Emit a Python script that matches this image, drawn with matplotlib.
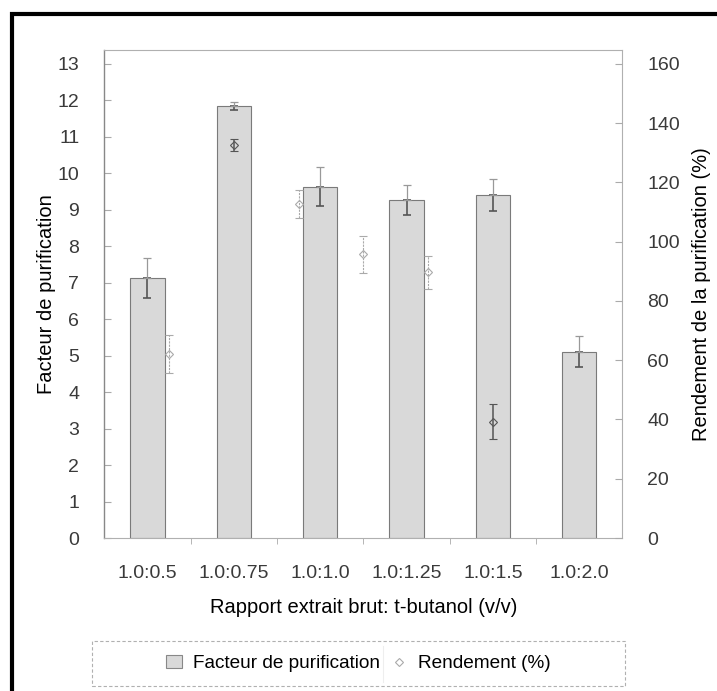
import matplotlib.pyplot as plt
from matplotlib.patches import Rectangle
from matplotlib.lines import Line2D
from matplotlib.patches import Patch
import numpy as np

plt.rcParams['font.family'] = ['Liberation Sans', 'DejaVu Sans']

categories = ["1.0:0.5", "1.0:0.75", "1.0:1.0", "1.0:1.25", "1.0:1.5", "1.0:2.0"]
facteur = [7.12, 11.84, 9.63, 9.26, 9.41, 5.11]
facteur_err = [0.55, 0.11, 0.54, 0.41, 0.43, 0.42]
rendement = [62.2, 132.7, 112.7, 95.7, 89.7, 39.2]
rendement_err = [6.4, 2.0, 4.8, 6.4, 5.6, 5.9]

fig = plt.figure(figsize=(7.17, 6.91), dpi=100)
pos = [0.1455, 0.2214, 0.7225, 0.7062]
ax = fig.add_axes(pos)

x = np.arange(len(categories))
ax.bar(x, facteur, width=0.4, color='#d9d9d9', edgecolor='#7a7a7a', linewidth=0.8, zorder=2)
# error bars: lower part (inside bar) dark, upper part lighter
ax.errorbar(x, facteur, yerr=[facteur_err, np.zeros(len(x))], fmt='none',
            ecolor='#555555', elinewidth=1.2, capsize=3, capthick=1.2, zorder=3)
ax.errorbar(x, facteur, yerr=[np.zeros(len(x)), facteur_err], fmt='none',
            ecolor='#999999', elinewidth=0.9, capsize=3, capthick=0.9, zorder=3)

ax.set_xlim(-0.5, len(categories) - 0.5)
ax.set_ylim(0, 13.38)
ax.set_yticks(range(0, 14))
ax.set_xticks(x)
ax.set_xticklabels(categories)
ax.set_xticks(np.arange(0.5, len(categories) - 0.5), minor=True)
ax.tick_params(axis='x', which='major', length=0, pad=19.5, labelsize=14, labelcolor='#3a3a3a')
ax.tick_params(axis='x', which='minor', length=4, color='#aaaaaa', direction='out')
ax.tick_params(axis='y', direction='in', length=5, color='#aaaaaa', labelsize=14,
               labelcolor='#3a3a3a', pad=18)
ax.spines['left'].set_color('#888888')
ax.spines['left'].set_linewidth(1.0)
for s in ['top', 'bottom', 'right']:
    ax.spines[s].set_color('#b0b0b0')
    ax.spines[s].set_linestyle((0, (2, 1)))
    ax.spines[s].set_linewidth(0.8)
ax.set_xlabel("Rapport extrait brut: t-butanol (v/v)", fontsize=14.5, labelpad=11.5)
ax.set_ylabel("Facteur de purification", fontsize=14.5, labelpad=1)

# secondary axes: value x axis 0..8, rendement points at 1..6
ax2 = fig.add_axes(pos, frameon=False)
xr = np.arange(1, len(rendement) + 1)
dark = [False, True, False, False, False, True]
for xi, yi, ei, d in zip(xr, rendement, rendement_err, dark):
    col = '#555555' if d else '#aaaaaa'
    ls = '-' if d else (0, (2, 1))
    eb = ax2.errorbar(xi, yi, yerr=ei, fmt='D', ms=4.5, mfc='none', mec=col, mew=0.8,
                      ecolor=col, elinewidth=1.1 if d else 0.8, capsize=3,
                      capthick=1.1 if d else 0.8, zorder=4)
    eb[2][0].set_linestyle(ls)
ax2.set_xlim(0, 8)
ax2.set_ylim(0, 164.7)
ax2.set_xticks([])
ax2.yaxis.tick_right()
ax2.yaxis.set_label_position('right')
ax2.set_yticks(range(0, 161, 20))
ax2.tick_params(axis='y', direction='in', length=5, color='#aaaaaa', labelsize=14,
                labelcolor='#3a3a3a', pad=18)
ax2.set_ylabel("Rendement de la purification (%)", fontsize=14.5, labelpad=8.5)

handles = [Patch(facecolor='#d9d9d9', edgecolor='#888888', linewidth=0.8),
           Line2D([], [], marker='D', ms=4, mfc='none', mec='#aaaaaa', mew=0.8, linestyle='none')]
leg = fig.legend(handles, ["Facteur de purification", "Rendement (%)"], loc='center',
                 bbox_to_anchor=(0.5, 1 - 663.5 / 691), ncol=2, fontsize=13.7,
                 frameon=False, handlelength=0.8, handletextpad=0.6,
                 columnspacing=0.6, borderaxespad=0)

# legend frame drawn separately to match the wide box
fig.patches.append(Rectangle((92 / 717, 1 - 686 / 691), 533 / 717, 45 / 691,
                             transform=fig.transFigure, fill=False, edgecolor='#b0b0b0',
                             linewidth=0.8, linestyle=(0, (3, 2))))
fig.add_artist(Line2D([383 / 717, 383 / 717], [1 - 682 / 691, 1 - 646 / 691],
                      transform=fig.transFigure, color='#eeeeee', linewidth=0.8))

fig.patches.append(Rectangle((0.017, -0.1), 1.2, 1.0797, transform=fig.transFigure,
                             fill=False, edgecolor='black', linewidth=3))

fig.savefig("out.png", dpi=100)
